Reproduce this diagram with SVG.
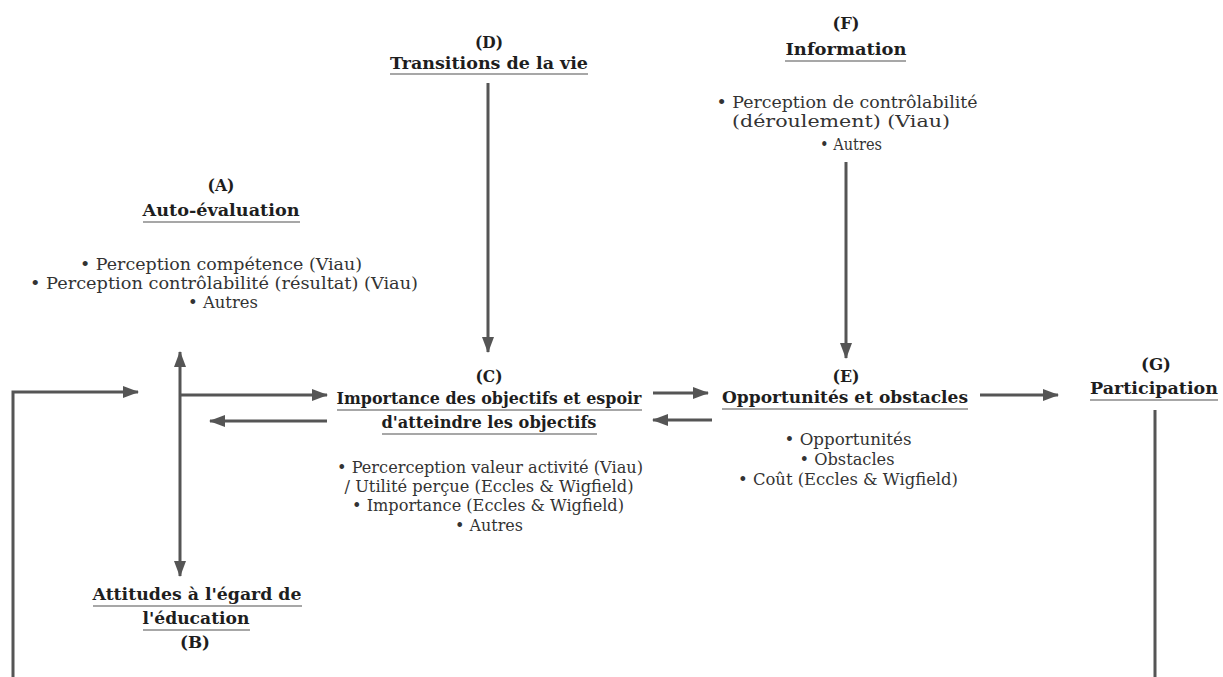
<svg xmlns="http://www.w3.org/2000/svg" width="1223" height="677" viewBox="0 0 1223 677">
<defs>
<marker id="ah" markerUnits="userSpaceOnUse" markerWidth="16" markerHeight="12" refX="15" refY="6" orient="auto-start-reverse">
<path d="M0,0 L16,6 L0,12 Z" fill="#555"/>
</marker>
<style>
text{font-family:"DejaVu Serif","Liberation Serif",serif;text-anchor:middle;fill:#2a2a2a}
.h{font-size:17px;font-weight:bold;fill:#1e1e1e}
.b{font-size:16.5px;fill:#333}
.u{stroke:#8a8a8a;stroke-width:1.6}
.c{stroke:#555;stroke-width:3;fill:none}
</style>
</defs>
<rect width="1223" height="677" fill="#fff"/>

<g id="connectors">
<path class="c" d="M13,677 V392 H138" marker-end="url(#ah)"/>
<line class="c" x1="180" y1="352" x2="180" y2="576" marker-start="url(#ah)" marker-end="url(#ah)"/>
<line class="c" x1="180" y1="395" x2="327" y2="395" marker-end="url(#ah)"/>
<line class="c" x1="327" y1="421" x2="210" y2="421" marker-end="url(#ah)"/>
<line class="c" x1="488" y1="83" x2="488" y2="352" marker-end="url(#ah)"/>
<line class="c" x1="653" y1="393" x2="708" y2="393" marker-end="url(#ah)"/>
<line class="c" x1="712" y1="420" x2="653" y2="420" marker-end="url(#ah)"/>
<line class="c" x1="846" y1="162" x2="846" y2="358" marker-end="url(#ah)"/>
<line class="c" x1="980" y1="395" x2="1058" y2="395" marker-end="url(#ah)"/>
<line class="c" x1="1155" y1="410" x2="1155" y2="677"/>
</g>

<g id="nodeA">
<text class="h" x="221" y="191" textLength="27" lengthAdjust="spacingAndGlyphs">(A)</text>
<text class="h" x="221" y="216" textLength="157" lengthAdjust="spacingAndGlyphs">Auto-évaluation</text>
<line class="u" x1="143" y1="222" x2="300" y2="222"/>
<text class="b" x="221" y="270" textLength="282" lengthAdjust="spacingAndGlyphs">• Perception compétence (Viau)</text>
<text class="b" x="224" y="289" textLength="388" lengthAdjust="spacingAndGlyphs">• Perception contrôlabilité (résultat) (Viau)</text>
<text class="b" x="223" y="308" textLength="70" lengthAdjust="spacingAndGlyphs">• Autres</text>
</g>

<g id="nodeB">
<text class="h" x="197" y="600" textLength="209" lengthAdjust="spacingAndGlyphs">Attitudes à l'égard de</text>
<line class="u" x1="93" y1="606" x2="302" y2="606"/>
<text class="h" x="196" y="624" textLength="107" lengthAdjust="spacingAndGlyphs">l'éducation</text>
<line class="u" x1="143" y1="630" x2="250" y2="630"/>
<text class="h" x="195" y="648" textLength="30" lengthAdjust="spacingAndGlyphs">(B)</text>
</g>

<g id="nodeD">
<text class="h" x="489" y="48" textLength="28" lengthAdjust="spacingAndGlyphs">(D)</text>
<text class="h" x="489" y="69" textLength="198" lengthAdjust="spacingAndGlyphs">Transitions de la vie</text>
<line class="u" x1="390" y1="74" x2="588" y2="74"/>
</g>

<g id="nodeC">
<text class="h" x="489" y="382" textLength="27" lengthAdjust="spacingAndGlyphs">(C)</text>
<text class="h" x="489" y="404" textLength="305" lengthAdjust="spacingAndGlyphs">Importance des objectifs et espoir</text>
<line class="u" x1="337" y1="410" x2="642" y2="410"/>
<text class="h" x="489" y="428" textLength="215" lengthAdjust="spacingAndGlyphs">d'atteindre les objectifs</text>
<line class="u" x1="382" y1="434" x2="597" y2="434"/>
<text class="b" x="490" y="473" textLength="306" lengthAdjust="spacingAndGlyphs">• Percerception valeur activité (Viau)</text>
<text class="b" x="489" y="492" textLength="289" lengthAdjust="spacingAndGlyphs">/ Utilité perçue (Eccles &amp; Wigfield)</text>
<text class="b" x="488" y="511" textLength="272" lengthAdjust="spacingAndGlyphs">• Importance (Eccles &amp; Wigfield)</text>
<text class="b" x="489" y="531" textLength="68" lengthAdjust="spacingAndGlyphs">• Autres</text>
</g>

<g id="nodeF">
<text class="h" x="846" y="29" textLength="27" lengthAdjust="spacingAndGlyphs">(F)</text>
<text class="h" x="846" y="55" textLength="121" lengthAdjust="spacingAndGlyphs">Information</text>
<line class="u" x1="785" y1="61" x2="906" y2="61"/>
<text class="b" x="847" y="108" textLength="261" lengthAdjust="spacingAndGlyphs">• Perception de contrôlabilité</text>
<text class="b" x="841" y="127" textLength="218" lengthAdjust="spacingAndGlyphs">(déroulement) (Viau)</text>
<text class="b" x="851" y="150" textLength="62" lengthAdjust="spacingAndGlyphs">• Autres</text>
</g>

<g id="nodeE">
<text class="h" x="846" y="382" textLength="27" lengthAdjust="spacingAndGlyphs">(E)</text>
<text class="h" x="845" y="403" textLength="246" lengthAdjust="spacingAndGlyphs">Opportunités et obstacles</text>
<line class="u" x1="722" y1="409" x2="968" y2="409"/>
<text class="b" x="848" y="445" textLength="127" lengthAdjust="spacingAndGlyphs">• Opportunités</text>
<text class="b" x="847" y="465" textLength="95" lengthAdjust="spacingAndGlyphs">• Obstacles</text>
<text class="b" x="848" y="485" textLength="220" lengthAdjust="spacingAndGlyphs">• Coût (Eccles &amp; Wigfield)</text>
</g>

<g id="nodeG">
<text class="h" x="1156" y="370" textLength="30" lengthAdjust="spacingAndGlyphs">(G)</text>
<text class="h" x="1154" y="394" textLength="128" lengthAdjust="spacingAndGlyphs">Participation</text>
<line class="u" x1="1090" y1="400" x2="1218" y2="400"/>
</g>
</svg>
